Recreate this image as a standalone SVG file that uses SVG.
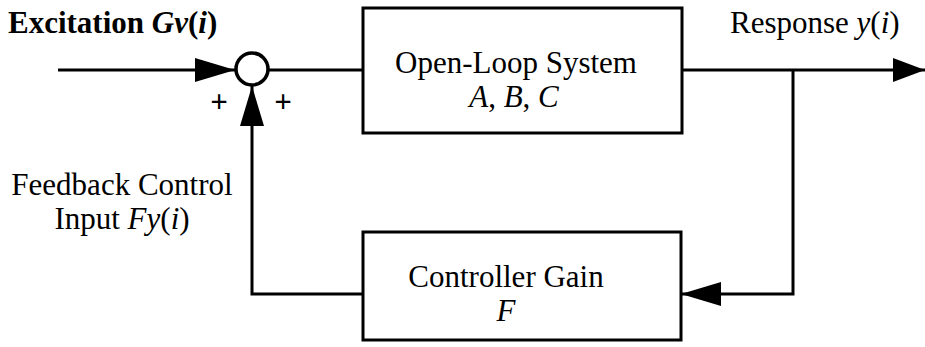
<svg xmlns="http://www.w3.org/2000/svg" width="925" height="347" viewBox="0 0 925 347">
<style>
.box{fill:#fff;stroke:#000;stroke-width:3}
.ln{fill:none;stroke:#000;stroke-width:3}
.t{font-family:"Liberation Serif","Times New Roman",serif;font-size:31px;fill:#000}
.b{font-weight:bold}
.i{font-style:italic}
</style>
<defs>
<marker id="ah" markerUnits="userSpaceOnUse" markerWidth="40" markerHeight="24" refX="40" refY="12" orient="auto">
<path d="M0,0 L40,12 L0,24 z" fill="#000"/>
</marker>
<marker id="ahs" markerUnits="userSpaceOnUse" markerWidth="32" markerHeight="24" refX="32" refY="12" orient="auto">
<path d="M0,0 L32,12 L0,24 z" fill="#000"/>
</marker>
</defs>
<g id="connectors">
<path class="ln" d="M58,70 L235,70" marker-end="url(#ah)"/>
<path class="ln" d="M268,70 L363,70"/>
<path class="ln" d="M682,70 L925,70" marker-end="url(#ahs)"/>
<path class="ln" d="M793,70 L793,294 L681,294" marker-end="url(#ah)"/>
<path class="ln" d="M363,294 L252,294 L252,86" marker-end="url(#ah)"/>
</g>
<g id="sum">
<circle cx="252" cy="69" r="16" fill="#fff" stroke="#000" stroke-width="3.5"/>
<text class="t b" x="219" y="112" text-anchor="middle" font-size="28">+</text>
<text class="t b" x="283" y="112" text-anchor="middle" font-size="28">+</text>
</g>
<g id="open-loop">
<rect class="box" x="363" y="8" width="319" height="125"/>
<text class="t" x="516" y="73" text-anchor="middle" font-size="31.8">Open-Loop System</text>
<text class="t i" x="514" y="107" text-anchor="middle" font-size="31.8">A<tspan font-style="normal">, </tspan>B<tspan font-style="normal">, </tspan>C</text>
</g>
<g id="controller">
<rect class="box" x="363" y="232" width="318" height="108"/>
<text class="t" x="506" y="287" text-anchor="middle" font-size="30.6">Controller Gain</text>
<text class="t i" x="506" y="321" text-anchor="middle" font-size="30.6">F</text>
</g>
<g id="labels">
<text class="t b" x="8" y="33" font-size="32.5">Excitation <tspan class="i">Gv</tspan>(<tspan class="i">i</tspan>)</text>
<text class="t" x="730" y="33" font-size="32">Response <tspan class="i">y</tspan>(<tspan class="i">i</tspan>)</text>
<text class="t" x="122" y="195" text-anchor="middle" font-size="30.8">Feedback Control</text>
<text class="t" x="122" y="229" text-anchor="middle" font-size="30.8">Input <tspan class="i">Fy</tspan>(<tspan class="i">i</tspan>)</text>
</g>
</svg>
